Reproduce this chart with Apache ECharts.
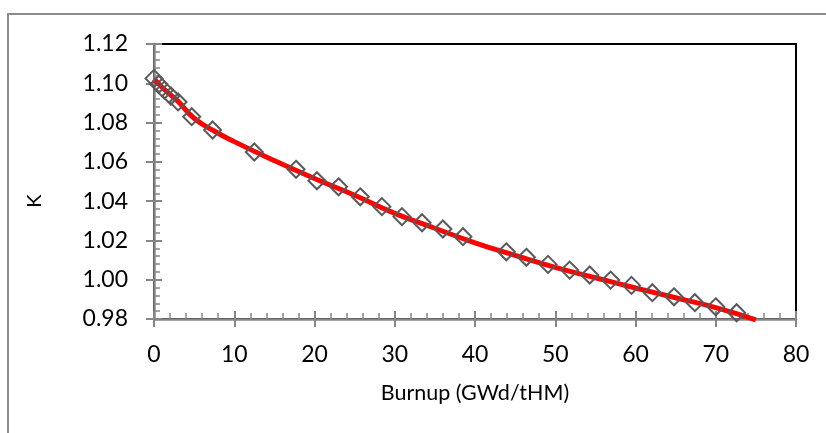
<!DOCTYPE html>
<html>
<head>
<meta charset="utf-8">
<script src="https://cdn.jsdelivr.net/npm/echarts@6/dist/echarts.min.js"></script>
<style>
html,body{margin:0;padding:0;background:#fff;}
#chart{width:826px;height:433px;}
</style>
</head>
<body>
<div id="chart"></div>
<script>
// Data
var burnup = [0, 0.6, 1.3, 2.1, 3.0, 4.7, 7.3, 12.5, 17.7, 20.3, 23.0, 25.7, 28.4, 30.9, 33.4, 36.0, 38.5, 43.9, 46.4, 49.1, 51.8, 54.3, 56.9, 59.5, 62.1, 64.8, 67.4, 70.0, 72.6];
var kValues = [1.1025, 1.0995, 1.0965, 1.0935, 1.0905, 1.0830, 1.0762, 1.0650, 1.0562, 1.0504, 1.0473, 1.0422, 1.0372, 1.0321, 1.0290, 1.0258, 1.0219, 1.0142, 1.0114, 1.0078, 1.0049, 1.0024, 0.9998, 0.9971, 0.9934, 0.9913, 0.9883, 0.9862, 0.9832];
// Red fitted curve, read at several burnup values
var fitBurnup = [0, 1, 2, 3, 5, 7.5, 10, 15, 20, 25, 30, 35, 40, 45, 50, 55, 60, 65, 70, 75];
var fitK = [1.1022, 1.0980, 1.0943, 1.0908, 1.0822, 1.0757, 1.0703, 1.0606, 1.0515, 1.0430, 1.0338, 1.0262, 1.0188, 1.0124, 1.0063, 1.0010, 0.9958, 0.9908, 0.9858, 0.9796];
var xTicks = {min: 0, max: 80, interval: 10};
var yTicks = {min: 0.98, max: 1.12, interval: 0.02};

var points = burnup.map(function (b, i) { return [b, kValues[i]]; });
var fit = fitBurnup.map(function (b, i) { return [b, fitK[i]]; });

var chart = echarts.init(document.getElementById('chart'), null, {renderer: 'canvas'});
var axisGray = '#868686';
var font = 'Lato, "Open Sans", sans-serif';

chart.setOption({
  animation: false,
  backgroundColor: '#ffffff',
  grid: {
    left: 154, right: 30, top: 44, bottom: 114,
    show: true, borderColor: '#000000', borderWidth: 2, backgroundColor: 'transparent'
  },
  graphic: [
    {type: 'rect', shape: {x: 8, y: 14, width: 900, height: 600}, style: {fill: 'none', stroke: '#8c8c8c', lineWidth: 2}, silent: true, z: -10},
    {type: 'text', x: 35, y: 201, rotation: Math.PI / 2, style: {text: 'K', font: '20px ' + font, fill: '#000', textAlign: 'center', textVerticalAlign: 'middle'}}
  ],
  xAxis: [
    {
      type: 'value', min: xTicks.min, max: xTicks.max, interval: xTicks.interval, position: 'bottom',
      name: 'Burnup (GWd/tHM)', nameLocation: 'middle', nameGap: 63,
      nameTextStyle: {fontFamily: font, fontSize: 21.5, color: '#000'},
      axisLine: {show: true, onZero: false, lineStyle: {color: axisGray, width: 2.5}},
      axisTick: {show: true, inside: true, length: 8, lineStyle: {color: axisGray, width: 2}},
      minorTick: {show: true, splitNumber: 5, length: 6, lineStyle: {color: axisGray, width: 1.5}},
      splitLine: {show: false},
      axisLabel: {fontFamily: font, fontSize: 23, color: '#000', margin: 24}
    },
    {
      type: 'value', min: xTicks.min, max: xTicks.max, interval: xTicks.interval, position: 'bottom',
      axisLine: {show: false},
      axisTick: {show: true, inside: false, length: 8, lineStyle: {color: axisGray, width: 2}},
      splitLine: {show: false},
      axisLabel: {show: false}
    }
  ],
  yAxis: [
    {
      type: 'value', min: yTicks.min, max: yTicks.max, interval: yTicks.interval, position: 'left',
      axisLine: {show: true, onZero: false, lineStyle: {color: axisGray, width: 2.5}},
      axisTick: {show: true, inside: true, length: 8, lineStyle: {color: axisGray, width: 2}},
      minorTick: {show: true, splitNumber: 5, length: 6, lineStyle: {color: axisGray, width: 1.5}},
      splitLine: {show: false},
      axisLabel: {fontFamily: font, fontSize: 23, color: '#000', margin: 26,
        formatter: function (v) { return v.toFixed(2); }}
    },
    {
      type: 'value', min: yTicks.min, max: yTicks.max, interval: yTicks.interval, position: 'left',
      axisLine: {show: false},
      axisTick: {show: true, inside: false, length: 8, lineStyle: {color: axisGray, width: 2}},
      splitLine: {show: false},
      axisLabel: {show: false}
    }
  ],
  series: [
    {
      name: 'fit', type: 'line', data: fit, smooth: true, showSymbol: false, symbol: 'none',
      clip: false, z: 3,
      lineStyle: {color: '#ff0000', width: 5}
    },
    {
      name: 'K', type: 'scatter', data: points, symbol: 'diamond', symbolSize: 17, clip: false, z: 4,
      itemStyle: {color: 'rgba(255,255,255,0)', borderColor: '#595959', borderWidth: 2, opacity: 1}
    }
  ]
});
</script>
</body>
</html>
